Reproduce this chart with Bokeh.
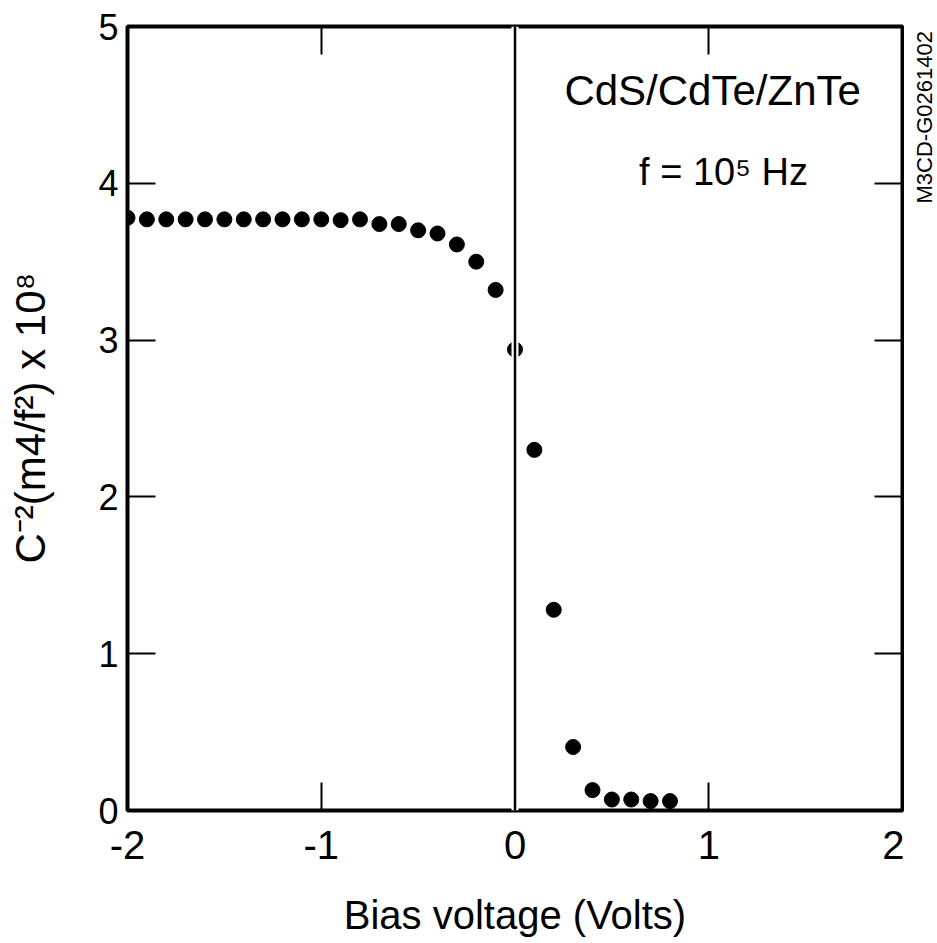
import math
from bokeh.plotting import figure
from bokeh.layouts import row
from bokeh.models import Range1d, LinearAxis, Span, Label, FixedTicker, Title
from bokeh.embed import file_html
from bokeh.resources import INLINE

# Data
bias_volts = [-2.0, -1.9, -1.8, -1.7, -1.6, -1.5, -1.4, -1.3, -1.2, -1.1,
              -1.0, -0.9, -0.8, -0.7, -0.6, -0.5, -0.4, -0.3, -0.2, -0.1,
              0.0, 0.1, 0.2, 0.3, 0.4, 0.5, 0.6, 0.7, 0.8]
c_inv_sq = [3.78, 3.77, 3.77, 3.77, 3.77, 3.77, 3.77, 3.77, 3.77, 3.77,
            3.77, 3.765, 3.77, 3.74, 3.74, 3.70, 3.68, 3.61, 3.50, 3.32,
            2.94, 2.30, 1.28, 0.405, 0.13, 0.07, 0.07, 0.06, 0.06]
x_ticks = [-2, -1, 0, 1, 2]
x_tick_labels = ["-2", "-1", "0", "1", "2"]
y_ticks = [0, 1, 2, 3, 4, 5]

FONT = "Liberation Sans"

p = figure(width=904, height=940,
           x_range=Range1d(-2, 2), y_range=Range1d(0, 5),
           output_backend="svg", toolbar_location=None,
           min_border_left=127, min_border_right=2,
           min_border_top=26, min_border_bottom=130)
p.xgrid.visible = False
p.ygrid.visible = False
p.background_fill_color = "white"
p.border_fill_color = "white"
p.outline_line_color = "black"
p.outline_line_width = 4
p.outline_line_alpha = 1.0


def style_axis(ax, font_size, standoff):
    ax.axis_line_color = None
    ax.major_tick_in = 28
    ax.major_tick_out = 0
    ax.major_tick_line_width = 2
    ax.major_tick_line_color = "black"
    ax.minor_tick_line_color = None
    ax.major_label_text_font = FONT
    ax.major_label_text_font_size = font_size
    ax.major_label_text_color = "black"
    ax.major_label_standoff = standoff


xa = p.xaxis[0]
xa.ticker = FixedTicker(ticks=x_ticks)
xa.major_label_overrides = dict(zip(x_ticks, x_tick_labels))
style_axis(xa, "40px", 20)
xa.axis_label = "Bias voltage (Volts)"
xa.axis_label_text_font = FONT
xa.axis_label_text_font_size = "40px"
xa.axis_label_text_font_style = "normal"
xa.axis_label_text_color = "black"
xa.axis_label_standoff = 31

ya = p.yaxis[0]
ya.ticker = FixedTicker(ticks=y_ticks)
style_axis(ya, "36px", 9)

# invisible spacer axis on the left so the y title can sit further out
spacer = LinearAxis(ticker=FixedTicker(ticks=[2.5]))
spacer.axis_line_color = None
spacer.major_tick_out = 38
spacer.major_tick_in = 0
spacer.major_tick_line_color = "white"
spacer.major_tick_line_width = 1
spacer.minor_tick_line_color = None
spacer.major_label_text_font_size = "0px"
spacer.major_label_text_alpha = 0
spacer.major_label_standoff = 0
p.add_layout(spacer, "left")

ytitle = Title(text="C\u207b\u00b2(m4/f\u00b2) x 10\u2078", align="left", offset=247,
               vertical_align="bottom", standoff=8, text_font=FONT,
               text_font_size="42px", text_font_style="normal", text_color="black")
p.add_layout(ytitle, "left")

top = LinearAxis(ticker=FixedTicker(ticks=x_ticks))
style_axis(top, "0px", 0)
top.major_label_text_alpha = 0
p.add_layout(top, "above")

right = LinearAxis(ticker=FixedTicker(ticks=y_ticks))
style_axis(right, "0px", 0)
right.major_label_text_alpha = 0
p.add_layout(right, "right")

p.scatter(bias_volts, c_inv_sq, size=15, color="black", marker="circle")

p.add_layout(Span(location=0, dimension="height", line_color="white", line_width=7))
p.add_layout(Span(location=0, dimension="height", line_color="black", line_width=2.5))

p.add_layout(Label(x=1.02, y=4.592, text="CdS/CdTe/ZnTe", text_align="center",
                   text_baseline="middle", text_font=FONT,
                   text_font_size="42px", text_color="black"))
p.add_layout(Label(x=1.076, y=4.069, text="f = 10\u2075 Hz", text_align="center",
                   text_baseline="middle", text_font=FONT,
                   text_font_size="38px", text_color="black"))

# narrow companion figure carrying the vertical figure code at the right edge
side = figure(width=33, height=940, x_range=Range1d(0, 33), y_range=p.y_range,
              output_backend="svg", toolbar_location=None,
              x_axis_location=None, y_axis_location=None,
              min_border_left=0, min_border_right=0,
              min_border_top=26, min_border_bottom=130)
side.grid.visible = False
side.outline_line_color = None
side.background_fill_color = "white"
side.border_fill_color = "white"
side.add_layout(Label(x=20, y=3.871, text="M3CD-G0261402", angle=math.pi / 2,
                      text_align="left", text_baseline="middle", text_font=FONT,
                      text_font_size="22px", text_color="black"))

layout = row(p, side, spacing=0)
open("out.html", "w").write(file_html(layout, INLINE))
